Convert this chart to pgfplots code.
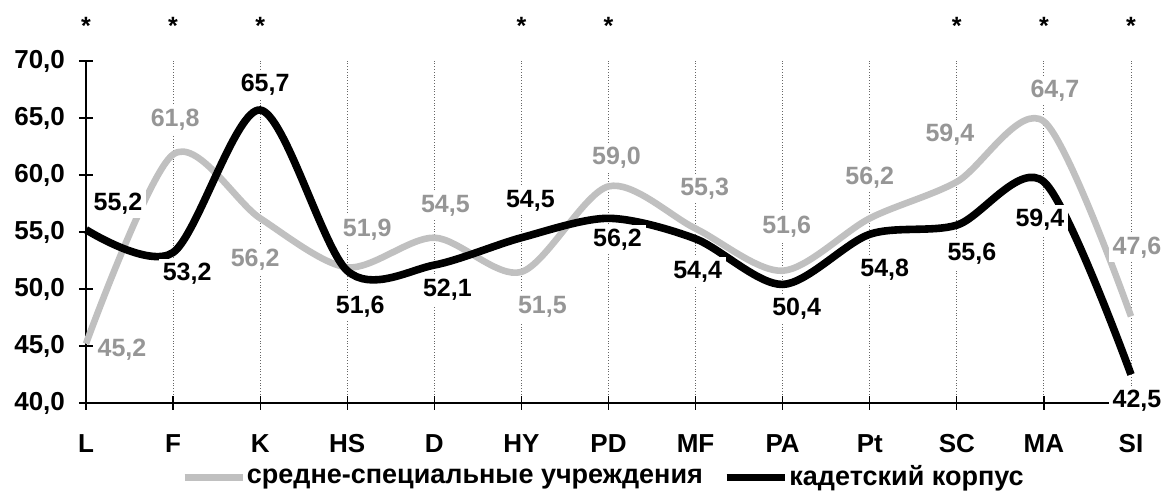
\documentclass[border=0pt]{standalone}
\usepackage{fontspec}
\setmainfont{Liberation Sans}
\usepackage{pgfplots}
\usepackage{pgfplotstable}
\pgfplotsset{compat=1.18}
\definecolor{lgray}{HTML}{C0C0C0}
\definecolor{tgray}{HTML}{969696}
\newcommand{\lblfont}{\fontsize{12.5}{14}\selectfont\bfseries}
\newcommand{\tickfont}{\fontsize{13}{15}\selectfont\bfseries}

% x y dx dy  (label offsets in px of the reference)
\pgfplotstableread{
x y dx dy
0 45.2 36 -4
1 61.8 2 37
2 56.2 -5 -39
3 51.9 20 40
4 54.5 11 34
5 51.5 21 -33
6 59.0 8 31
7 55.3 9 42
8 51.6 4 46
9 56.2 0 43
10 59.4 -7 49
11 64.7 11 33
12 47.6 6 71
}\tgry

\pgfplotstableread{
x y dx dy
0 55.2 32 28
1 53.2 14 -19
2 65.7 5 27
3 51.6 13 -34
4 52.1 13 -23
5 54.5 9 39
6 56.2 9 -19
7 54.4 2 -31
8 50.4 14 -22
9 54.8 15 -33
10 55.6 15 -27
11 59.4 -4 -36
12 42.5 6 -24
}\tblk

\begin{document}
\begin{tikzpicture}
\path[use as bounding box] (-43pt,-44pt) rectangle (540.5pt,201.5pt);
\begin{axis}[
  at={(0,0)}, anchor=south west,
  scale only axis, width=522.5pt, height=171pt,
  xmin=0, xmax=12, ymin=40, ymax=70,
  clip=false,
  axis lines*=left,
  axis line style={black, line width=0.6pt},
  xtick={0,...,12},
  xticklabels={L,F,K,HS,D,HY,PD,MF,PA,Pt,SC,MA,SI},
  ytick={40,45,...,70},
  tick align=center, major tick length=7pt,
  tick style={black, line width=0.6pt},
  xmajorgrids,
  grid style={densely dotted, black!60, line width=0.5pt},
  ticklabel style={font=\tickfont},
  yticklabel style={xshift=-3.5pt},
  xticklabel style={anchor=base, yshift=-21.5pt},
  /pgf/number format/fixed,
  /pgf/number format/fixed zerofill,
  /pgf/number format/precision=1,
  /pgf/number format/use comma,
  /pgf/number format/assume math mode=true,
  legend columns=2,
  legend style={at={(0.5,-0.2175)}, xshift=-2.75pt, anchor=center, draw=none, fill=none,
    font=\fontsize{13.5}{15}\selectfont\bfseries, cells={anchor=west},
    nodes={inner xsep=0.5pt},
    /tikz/every even column/.append style={column sep=9.5pt}},
  legend image code/.code={\draw[#1] (0pt,0pt) -- (29pt,0pt);},
]
\addplot[lgray, line width=3.3pt, smooth] table[x=x,y=y]{\tgry};
\addlegendentry{средне-специальные учреждения}
\addplot[black, line width=3.8pt, smooth] table[x=x,y=y]{\tblk};
\addlegendentry{кадетский корпус}

\addplot[draw=none, forget plot, nodes near coords, point meta=\thisrow{y},
  every node near coord/.append style={anchor=base, yshift=-4.4pt,
    fill=white, text=tgray, font=\lblfont, inner sep=2pt}]
  table[x expr={\thisrow{x}+\thisrow{dx}/87.083}, y expr={\thisrow{y}+\thisrow{dy}/11.4}]{\tgry};
\addplot[draw=none, forget plot, nodes near coords, point meta=\thisrow{y},
  every node near coord/.append style={anchor=base, yshift=-4.4pt,
    fill=white, text=black, font=\lblfont, inner sep=2pt}]
  table[x expr={\thisrow{x}+\thisrow{dx}/87.083}, y expr={\thisrow{y}+\thisrow{dy}/11.4}]{\tblk};

\addplot[draw=none, forget plot, nodes near coords, point meta=explicit symbolic,
  every node near coord/.append style={anchor=base, yshift=13pt, text=black, font=\lblfont, inner sep=0pt}]
  coordinates {(0,70)[*] (1,70)[*] (2,70)[*] (5,70)[*] (6,70)[*] (10,70)[*] (11,70)[*] (12,70)[*]};
\end{axis}
\end{tikzpicture}
\end{document}
